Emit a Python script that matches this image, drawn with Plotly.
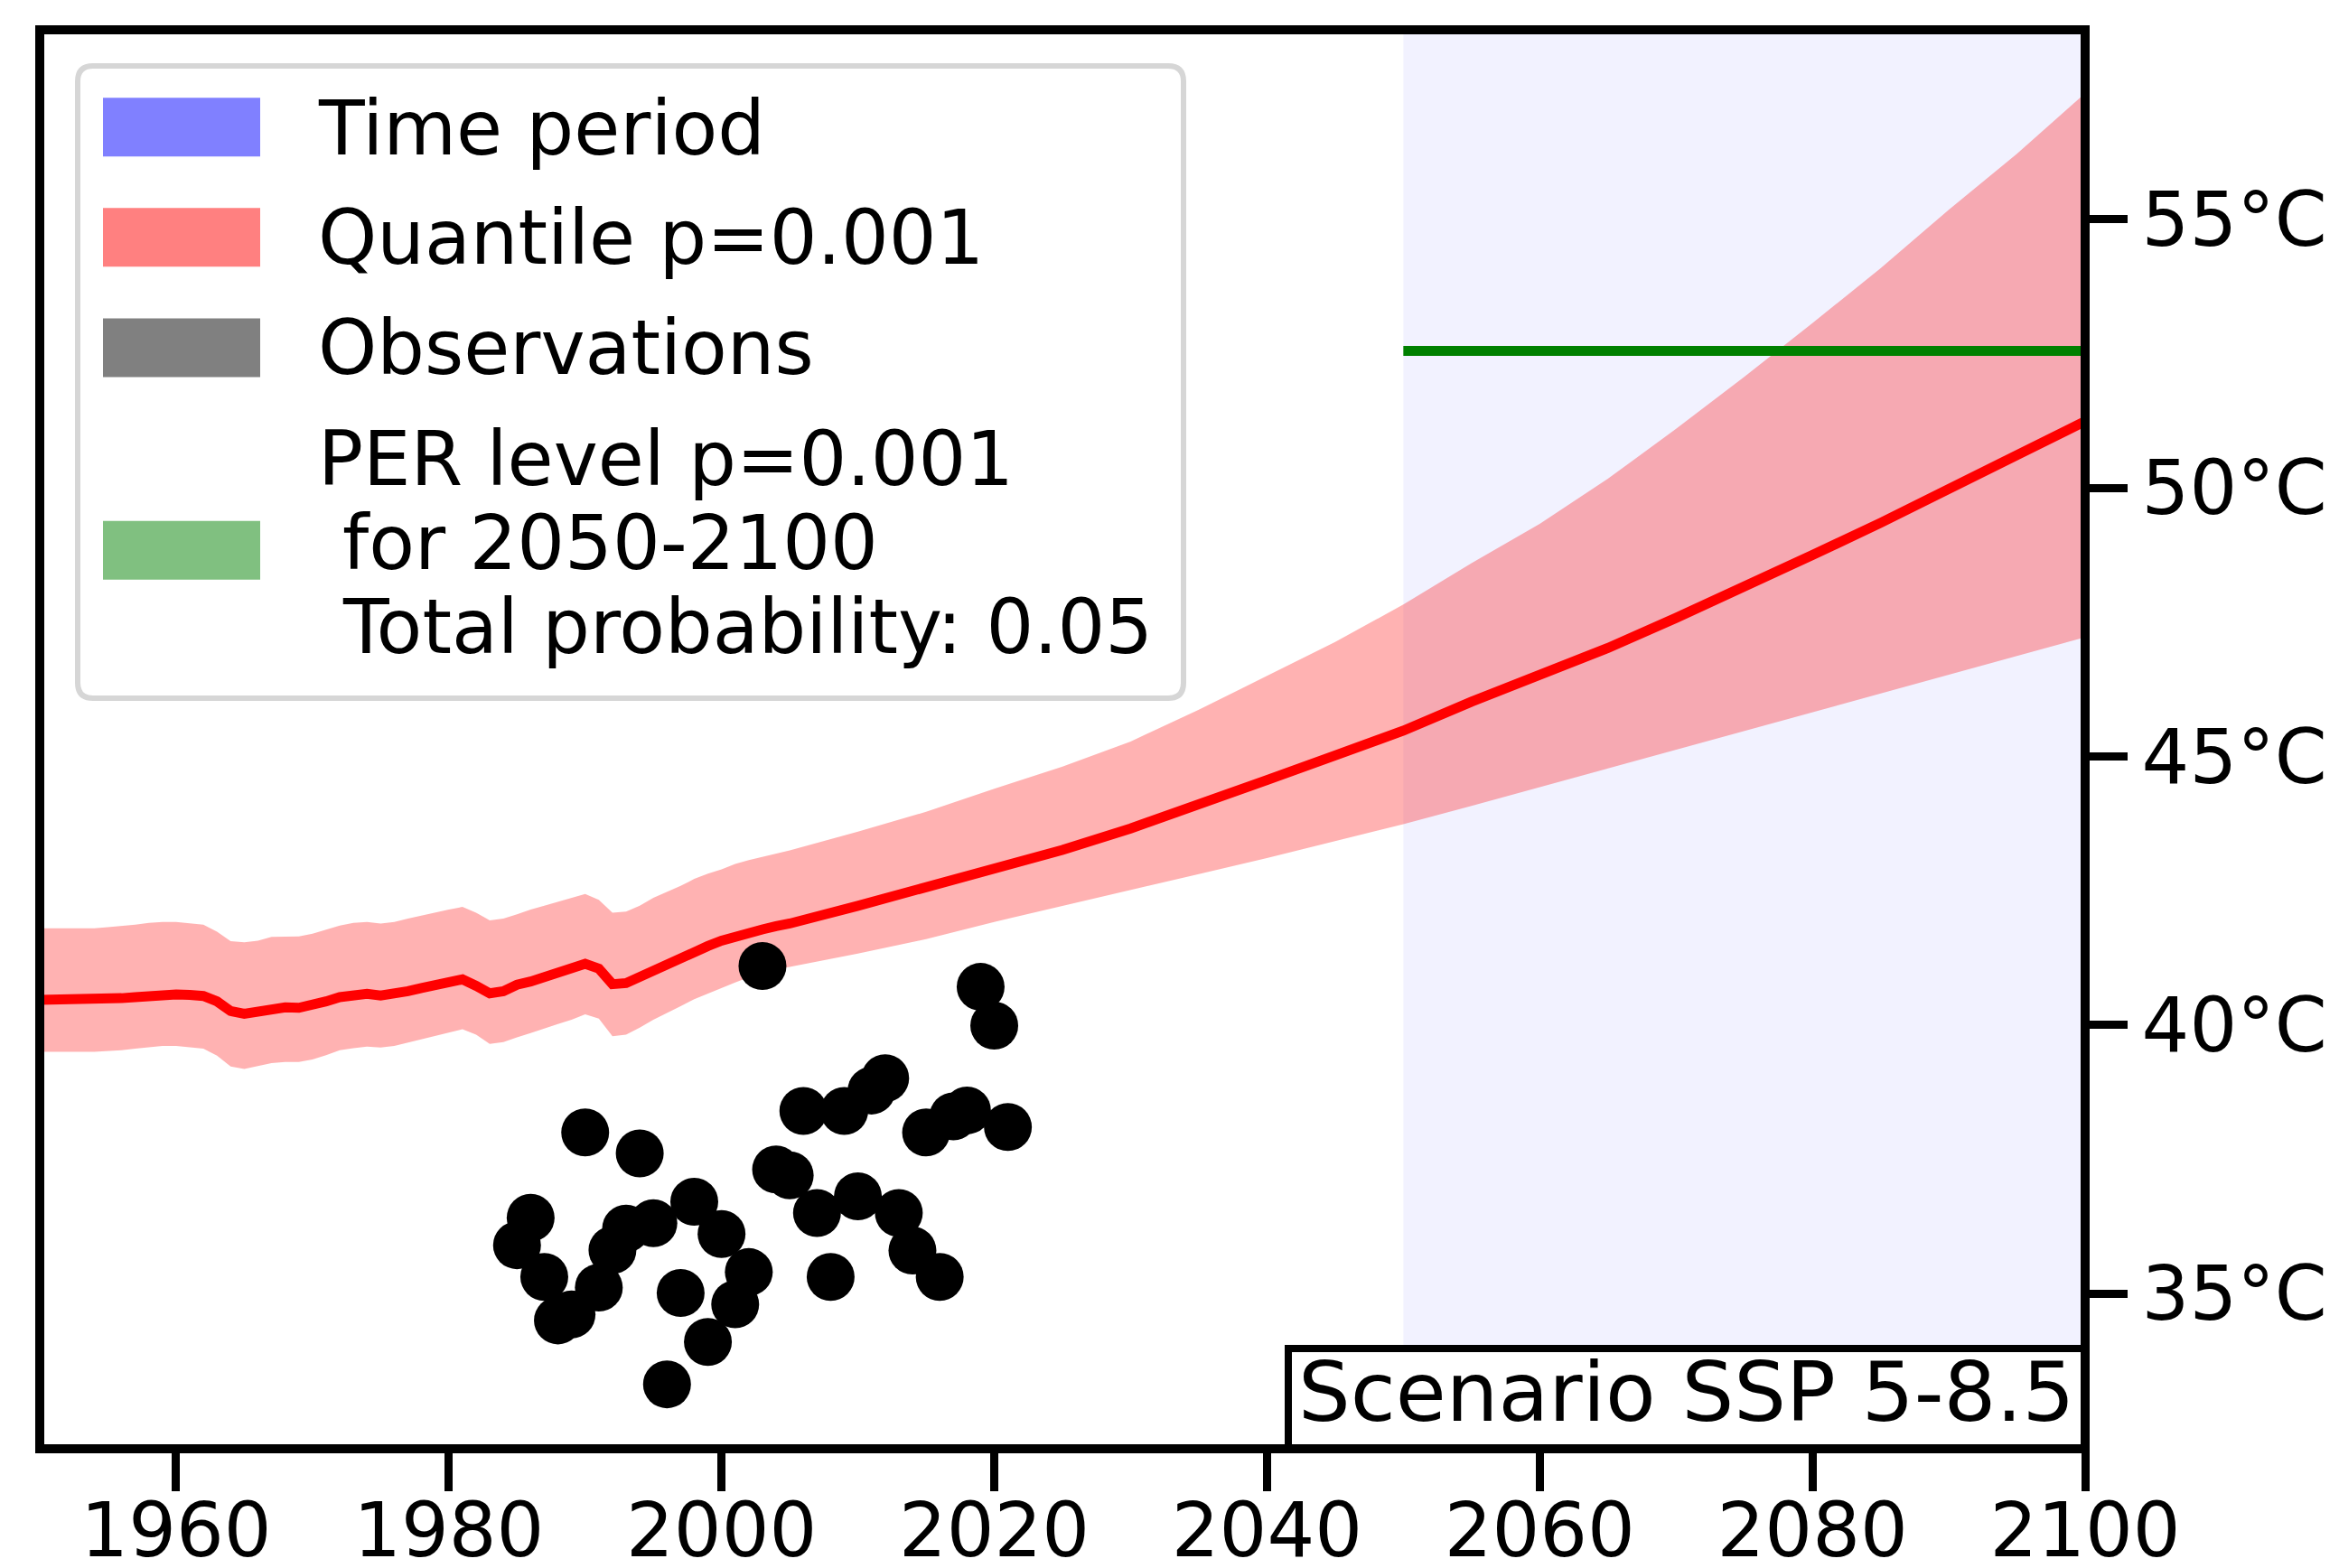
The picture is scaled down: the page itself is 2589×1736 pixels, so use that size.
import plotly.graph_objects as go

# ---------------- data ----------------
curve_years = list(range(1950, 2006)) + list(range(2010, 2101, 5))

quantile_line = [
    40.47, 40.47, 40.47, 40.47, 40.47, 40.48, 40.50, 40.52, 40.55, 40.57,
    40.57, 40.56, 40.54, 40.44, 40.26, 40.21, 40.25, 40.31, 40.33, 40.32,
    40.36, 40.44, 40.52, 40.55, 40.58, 40.55, 40.58, 40.63, 40.69, 40.74,
    40.80, 40.85, 40.73, 40.59, 40.63, 40.75, 40.81, 40.89, 40.96, 41.04,
    41.14, 41.05, 40.76, 40.78, 40.90, 41.04, 41.15, 41.26, 41.37, 41.47,
    41.57, 41.65, 41.72, 41.78, 41.84, 41.89,
    42.22, 42.57, 42.90, 43.26, 43.66, 44.09, 44.56, 45.02, 45.48, 46.02,
    46.50, 47.02, 47.58, 48.15, 48.75, 49.35, 50.00, 50.61, 51.24,
]

quantile_upper = [
    41.80, 41.80, 41.80, 41.80, 41.80, 41.82, 41.84, 41.87, 41.90, 41.92,
    41.92, 41.90, 41.87, 41.74, 41.56, 41.54, 41.57, 41.64, 41.65, 41.65,
    41.70, 41.77, 41.85, 41.90, 41.92, 41.89, 41.92, 41.98, 42.04, 42.10,
    42.15, 42.20, 42.09, 41.95, 41.98, 42.06, 42.15, 42.22, 42.29, 42.37,
    42.44, 42.33, 42.09, 42.11, 42.22, 42.37, 42.48, 42.59, 42.72, 42.82,
    42.90, 43.00, 43.07, 43.13, 43.18, 43.25,
    43.60, 43.97, 44.40, 44.81, 45.28, 45.87, 46.50, 47.13, 47.83, 48.60,
    49.33, 50.17, 51.10, 52.07, 53.07, 54.09, 55.18, 56.22, 57.35,
]

quantile_lower = [
    39.50, 39.50, 39.50, 39.50, 39.50, 39.51, 39.53, 39.56, 39.59, 39.61,
    39.61, 39.59, 39.56, 39.43, 39.23, 39.18, 39.23, 39.29, 39.31, 39.31,
    39.36, 39.44, 39.53, 39.57, 39.60, 39.58, 39.61, 39.67, 39.74, 39.79,
    39.86, 39.92, 39.82, 39.65, 39.68, 39.77, 39.85, 39.93, 40.02, 40.10,
    40.20, 40.12, 39.79, 39.82, 39.95, 40.10, 40.23, 40.35, 40.48, 40.59,
    40.69, 40.79, 40.89, 40.96, 41.03, 41.08,
    41.33, 41.60, 41.92, 42.21, 42.51, 42.81, 43.11, 43.42, 43.74, 44.08,
    44.43, 44.78, 45.13, 45.48, 45.83, 46.17, 46.52, 46.87, 47.22,
]

obs_years = list(range(1985, 2022))
obs_values = [
    35.90, 36.41, 35.31, 34.50, 34.61, 38.00, 35.11, 35.81, 36.21, 37.61,
    36.31, 33.31, 35.01, 36.71, 34.10, 36.11, 34.80, 35.40, 41.10, 37.31,
    37.20, 38.40, 36.50, 35.31, 38.40, 36.81, 38.78, 39.01, 36.50, 35.80,
    38.00, 35.31, 38.30, 38.41, 40.71, 39.99, 38.10,
]

period_years = [2050, 2100]
per_level = [52.55, 52.55]

x_limits = [1950, 2100]
y_limits = [32.11, 58.53]
xtick_vals = [1960, 1980, 2000, 2020, 2040, 2060, 2080, 2100]
ytick_vals = [35, 40, 45, 50, 55]
ytick_labels = ["35°C", "40°C", "45°C", "50°C", "55°C"]

legend_labels = ["Time period", "Quantile p=0.001", "Observations"]
legend_colors = ["#8080ff", "#ff8080", "#808080"]
per_legend_lines = ["PER level p=0.001", "for 2050-2100", "Total probability: 0.05"]
per_legend_color = "#80c080"
scenario_label = "Scenario SSP 5-8.5"

# ---------------- geometry (screen pixels) ----------------
SCREEN_W, SCREEN_H = 2589, 1736
OFF = 8                      # default page body margin
W, H = SCREEN_W - 2 * OFF, SCREEN_H - OFF
LW = 10                      # spine width
A_L, A_R, A_T, A_B = 44, 2308, 33, 1604      # spine centre lines = axes box
FONT = "DejaVu Sans"


def px(x):
    return (x - A_L) / (A_R - A_L)


def py(y):
    return (A_B - y) / (A_B - A_T)


fig = go.Figure()

fig.add_trace(go.Scatter(
    x=curve_years + curve_years[::-1],
    y=quantile_upper + quantile_lower[::-1],
    fill="toself", fillcolor="rgba(255,0,0,0.3)",
    line=dict(width=0), mode="lines", hoverinfo="skip", showlegend=False,
))
fig.add_trace(go.Scatter(
    x=curve_years, y=quantile_line, mode="lines",
    line=dict(color="#ff0000", width=11), showlegend=False,
))
fig.add_trace(go.Scatter(
    x=period_years, y=per_level, mode="lines",
    line=dict(color="#008000", width=11), showlegend=False,
))
fig.add_trace(go.Scatter(
    x=obs_years, y=obs_values, mode="markers",
    marker=dict(color="black", size=53, line=dict(width=0)), showlegend=False,
))

shapes = []
shapes.append(dict(type="rect", xref="x", yref="paper", x0=period_years[0], x1=period_years[1],
                   y0=0, y1=1, fillcolor="rgba(0,0,255,0.05)", line=dict(width=0), layer="below"))


def rounded_path(x0, y0, x1, y1, r):
    pts = [
        ("M", [(x0 + r, y0)]),
        ("L", [(x1 - r, y0)]), ("Q", [(x1, y0), (x1, y0 + r)]),
        ("L", [(x1, y1 - r)]), ("Q", [(x1, y1), (x1 - r, y1)]),
        ("L", [(x0 + r, y1)]), ("Q", [(x0, y1), (x0, y1 - r)]),
        ("L", [(x0, y0 + r)]), ("Q", [(x0, y0), (x0 + r, y0)]),
    ]
    s = ""
    for cmd, ps in pts:
        s += cmd + " " + " ".join(f"{px(a):.5f},{py(b):.5f}" for a, b in ps) + " "
    return s + "Z"


shapes.append(dict(type="path", xref="paper", yref="paper",
                   path=rounded_path(86, 73, 1310, 773, 17),
                   fillcolor="rgba(255,255,255,0.8)", line=dict(color="#d6d6d6", width=6),
                   layer="above"))

patch_centers = [140.8, 262.8, 385.0]
for c, col in zip(patch_centers, legend_colors):
    shapes.append(dict(type="rect", xref="paper", yref="paper",
                       x0=px(114), x1=px(288), y0=py(c + 32.5), y1=py(c - 32.5),
                       fillcolor=col, line=dict(width=0), layer="above"))
shapes.append(dict(type="rect", xref="paper", yref="paper",
                   x0=px(114), x1=px(288), y0=py(609.2 + 32.5), y1=py(609.2 - 32.5),
                   fillcolor=per_legend_color, line=dict(width=0), layer="above"))

# scenario box
shapes.append(dict(type="rect", xref="paper", yref="paper",
                   x0=px(1426), x1=1, y0=0, y1=py(1493),
                   fillcolor="white", line=dict(color="black", width=8), layer="above"))

# axes frame (spines)
shapes.append(dict(type="rect", xref="paper", yref="paper", x0=0, x1=1, y0=0, y1=1,
                   fillcolor="rgba(0,0,0,0)", line=dict(color="black", width=LW), layer="above"))

annotations = []
text_mids = [142.3, 263.6, 385.6]
for m, lab in zip(text_mids, legend_labels):
    annotations.append(dict(xref="paper", yref="paper", x=px(350), y=py(m),
                            xanchor="left", yanchor="middle", text=lab, showarrow=False,
                            font=dict(family=FONT, size=83, color="black")))
per_mids = [508.0, 601.3, 694.8]
per_x = [350, 376.5, 376.5]
for m, xx, lab in zip(per_mids, per_x, per_legend_lines):
    annotations.append(dict(xref="paper", yref="paper", x=px(xx), y=py(m),
                            xanchor="left", yanchor="middle", text=lab, showarrow=False,
                            font=dict(family=FONT, size=83, color="black")))
annotations.append(dict(xref="paper", yref="paper", x=px(1435), y=py(1541.8),
                        xanchor="left", yanchor="middle", text=scenario_label, showarrow=False,
                        font=dict(family=FONT, size=91, color="black")))

fig.update_layout(
    width=W, height=H,
    margin=dict(l=A_L - OFF, r=W - (A_R - OFF), t=A_T - OFF, b=H - (A_B - OFF),
                pad=0, autoexpand=False),
    paper_bgcolor="white", plot_bgcolor="white",
    shapes=shapes, annotations=annotations,
    showlegend=False,
    font=dict(family=FONT, size=83, color="black"),
    xaxis=dict(range=x_limits, tickvals=xtick_vals, ticks="outside", ticklen=46,
               tickwidth=9, tickcolor="black", showline=False,
               showgrid=False, zeroline=False, automargin=False,
               tickfont=dict(family=FONT, size=83, color="black"), ticklabelstandoff=-28),
    yaxis=dict(range=y_limits, side="right", tickvals=ytick_vals, ticktext=ytick_labels,
               ticks="outside", ticklen=46, tickwidth=9, tickcolor="black", showline=False,
               showgrid=False, zeroline=False, automargin=False,
               tickfont=dict(family=FONT, size=83, color="black"), ticklabelstandoff=-1),
)

fig.write_html("out.html")
